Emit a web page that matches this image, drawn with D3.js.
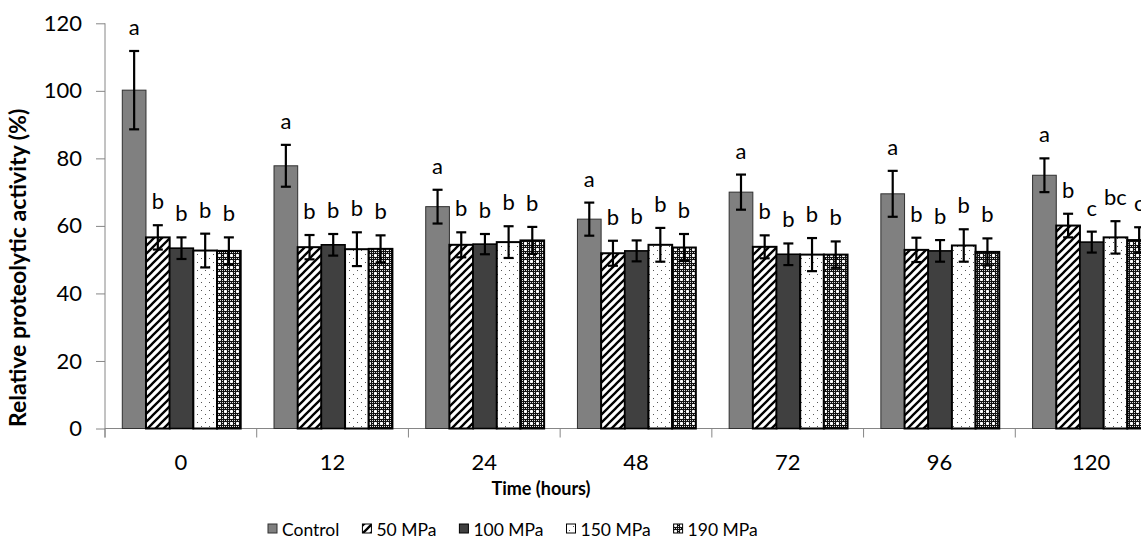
<!DOCTYPE html>
<html>
<head>
<meta charset="utf-8">
<script src="https://cdn.jsdelivr.net/npm/d3@7"></script>
<style>
  body { margin: 0; background: #fff; }
  svg { display: block; overflow: hidden; }
  text { font-family: Lato, "Open Sans", sans-serif; fill: #000; }
</style>
</head>
<body>
<svg id="chart" width="1141" height="542"></svg>
<script>
// time points (hours) and pressure treatments
let categories = ["0", "12", "24", "48", "72", "96", "120"];
let series = ["Control", "50 MPa", "100 MPa", "150 MPa", "190 MPa"];

// relative proteolytic activity (%)
let control   = [100.2, 77.8, 65.7, 62.0, 70.0, 69.5, 75.0];
let control_e = [11.6, 6.2, 5.0, 4.9, 5.2, 6.8, 5.0];
let mpa50     = [56.6, 53.7, 54.4, 51.9, 53.8, 52.9, 60.1];
let mpa50_e   = [3.6, 3.6, 3.7, 3.7, 3.4, 3.6, 3.5];
let mpa100    = [53.4, 54.4, 54.6, 52.6, 51.6, 52.6, 55.2];
let mpa100_e  = [3.2, 3.2, 3.0, 3.1, 3.2, 3.2, 3.1];
let mpa150    = [52.7, 53.1, 55.2, 54.4, 51.5, 54.2, 56.6];
let mpa150_e  = [5.0, 5.0, 4.7, 5.0, 4.9, 4.8, 4.8];
let mpa190    = [52.6, 53.2, 55.7, 53.6, 51.5, 52.3, 55.8];
let mpa190_e  = [4.0, 4.0, 4.0, 4.0, 3.9, 4.0, 3.8];

// significance letters
let control_l = ["a", "a", "a", "a", "a", "a", "a"];
let mpa50_l   = ["b", "b", "b", "b", "b", "b", "b"];
let mpa100_l  = ["b", "b", "b", "b", "b", "b", "c"];
let mpa150_l  = ["b", "b", "b", "b", "b", "b", "bc"];
let mpa190_l  = ["b", "b", "b", "b", "b", "b", "c"];

let yTicks = [0, 20, 40, 60, 80, 100, 120];

let values = [control, mpa50, mpa100, mpa150, mpa190];
let errors = [control_e, mpa50_e, mpa100_e, mpa150_e, mpa190_e];
let letters = [control_l, mpa50_l, mpa100_l, mpa150_l, mpa190_l];

let rows = [];
series.forEach((s, si) => {
  categories.forEach((c, ci) => {
    rows.push({series: s, si: si, cat: c, v: values[si][ci], e: errors[si][ci], l: letters[si][ci]});
  });
});

let svg = d3.select("#chart");
let defs = svg.append("defs");

// wide upward diagonal
let hatch = defs.append("pattern").attr("id", "hatch")
  .attr("patternUnits", "userSpaceOnUse").attr("width", 8).attr("height", 8);
hatch.append("rect").attr("width", 8).attr("height", 8).attr("fill", "#fff");
hatch.append("path").attr("d", "M-2,2 L2,-2 M0,8 L8,0 M6,10 L10,6")
  .attr("stroke", "#000").attr("stroke-width", 2.3);

// sparse dots
let dots = defs.append("pattern").attr("id", "dots")
  .attr("patternUnits", "userSpaceOnUse").attr("width", 8).attr("height", 8);
dots.append("rect").attr("width", 8).attr("height", 8).attr("fill", "#fff");
dots.append("rect").attr("x", 1).attr("y", 2).attr("width", 1).attr("height", 1).attr("fill", "#555");
dots.append("rect").attr("x", 5).attr("y", 6).attr("width", 1).attr("height", 1).attr("fill", "#555");

// dark grid with small white crosses
let check = defs.append("pattern").attr("id", "check")
  .attr("patternUnits", "userSpaceOnUse").attr("width", 6).attr("height", 6);
check.append("rect").attr("width", 6).attr("height", 6).attr("fill", "#111");
for (let i = 0; i < 6; i += 2) {
  for (let j = 0; j < 6; j += 2) {
    check.append("rect").attr("x", i).attr("y", j).attr("width", 1).attr("height", 1).attr("fill", "#ddd");
  }
}
check.append("rect").attr("x", 2).attr("y", 3).attr("width", 3).attr("height", 1).attr("fill", "#fff");
check.append("rect").attr("x", 3).attr("y", 2).attr("width", 1).attr("height", 3).attr("fill", "#fff");

let fills = ["#808080", "url(#hatch)", "#404040", "url(#dots)", "url(#check)"];
let strokes = ["#303030", "#000", "#000", "#000", "#000"];
let strokeW = [1, 2, 1.6, 2, 2];

let y = d3.scaleLinear().domain([0, 120]).range([428.5, 23.3]);
let x0 = d3.scaleBand().domain(categories).range([105, 1167]);
let x1 = d3.scaleBand().domain(series).range([17.3, 135.7]);

// y axis
let yAxis = svg.append("g")
  .attr("transform", "translate(105,0)")
  .call(d3.axisLeft(y).tickValues(yTicks).tickSize(9).tickSizeOuter(0).tickPadding(14));
yAxis.select(".domain").remove();
yAxis.selectAll(".tick line").attr("stroke", "#868686");
yAxis.selectAll(".tick text").attr("font-size", 22).style("font-family", "Lato, sans-serif");
svg.append("line")
  .attr("x1", 105).attr("x2", 105)
  .attr("y1", y(120)).attr("y2", y(0) + 9)
  .attr("stroke", "#868686");

// x axis
svg.append("line")
  .attr("x1", 105).attr("x2", x0.range()[1])
  .attr("y1", y(0)).attr("y2", y(0))
  .attr("stroke", "#868686");
let bounds = categories.map(c => x0(c)).concat([x0.range()[1]]);
svg.selectAll(".xtick").data(bounds).join("line")
  .attr("class", "xtick")
  .attr("x1", d => d).attr("x2", d => d)
  .attr("y1", y(0)).attr("y2", y(0) + 9)
  .attr("stroke", "#868686");
svg.selectAll(".xlab").data(categories).join("text")
  .attr("class", "xlab")
  .attr("x", d => x0(d) + x0.bandwidth() / 2)
  .attr("y", 470)
  .attr("text-anchor", "middle")
  .attr("font-size", 22)
  .text(d => d);

// bars
svg.append("g").selectAll("rect").data(rows).join("rect")
  .attr("x", d => x0(d.cat) + x1(d.series))
  .attr("y", d => y(d.v))
  .attr("width", x1.bandwidth())
  .attr("height", d => y(0) - y(d.v))
  .attr("fill", d => fills[d.si])
  .attr("stroke", d => strokes[d.si])
  .attr("stroke-width", d => strokeW[d.si]);

// error bars
let eb = svg.append("g").attr("stroke", "#000").attr("stroke-width", 2.2);
rows.forEach(d => {
  let cx = x0(d.cat) + x1(d.series) + x1.bandwidth() / 2;
  eb.append("line").attr("x1", cx).attr("x2", cx).attr("y1", y(d.v + d.e)).attr("y2", y(d.v - d.e));
  eb.append("line").attr("x1", cx - 5).attr("x2", cx + 5).attr("y1", y(d.v + d.e)).attr("y2", y(d.v + d.e));
  eb.append("line").attr("x1", cx - 5).attr("x2", cx + 5).attr("y1", y(d.v - d.e)).attr("y2", y(d.v - d.e));
});

// letters
svg.append("g").selectAll("text").data(rows).join("text")
  .attr("x", d => x0(d.cat) + x1(d.series) + x1.bandwidth() / 2)
  .attr("y", d => y(d.v + d.e) - 16)
  .attr("text-anchor", "middle")
  .attr("font-size", 22)
  .text(d => d.l);

// axis titles
svg.append("text")
  .attr("transform", "translate(26,427) rotate(-90)")
  .attr("font-size", 23)
  .attr("font-weight", "bold")
  .text("Relative proteolytic activity (%)");
svg.append("text")
  .attr("x", 541).attr("y", 495)
  .attr("text-anchor", "middle")
  .attr("font-size", 18)
  .attr("font-weight", "bold")
  .text("Time (hours)");

// legend
let lx = 268;
series.forEach((s, i) => {
  svg.append("rect")
    .attr("x", lx).attr("y", 524).attr("width", 9).attr("height", 9)
    .attr("fill", fills[i]).attr("stroke", strokes[i]).attr("stroke-width", 1);
  let t = svg.append("text")
    .attr("x", lx + 14).attr("y", 536)
    .attr("font-size", 17.5)
    .text(s);
  lx += 14 + t.node().getComputedTextLength() + 23;
});
</script>
</body>
</html>
